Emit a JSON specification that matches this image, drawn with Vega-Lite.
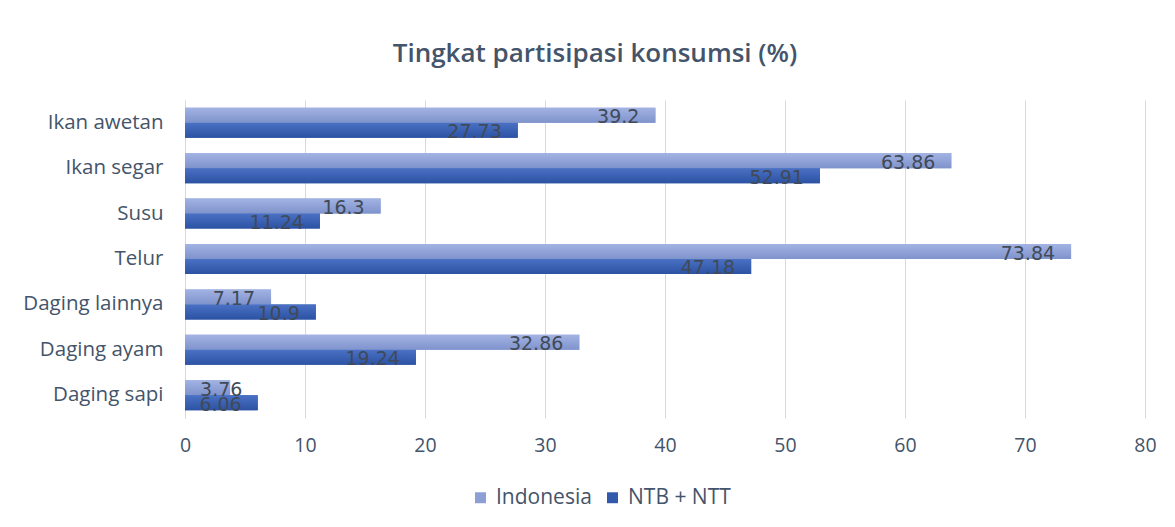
{
  "$schema": "https://vega.github.io/schema/vega-lite/v6.json",
  "autosize": {"type": "none"},
  "width": 960,
  "height": 318,
  "padding": {"left": 185, "top": 100, "right": 30, "bottom": 109},
  "background": "white",
  "title": {
    "text": "Tingkat partisipasi konsumsi (%)",
    "font": "Open Sans",
    "fontSize": 26,
    "fontWeight": 600,
    "color": "#44546a",
    "anchor": "middle",
    "dx": -70,
    "offset": 33
  },
  "data": {
    "values": [
      {"kategori": "Ikan awetan", "seri": "Indonesia", "nilai": 39.2, "label": "39.2"},
      {"kategori": "Ikan awetan", "seri": "NTB + NTT", "nilai": 27.73, "label": "27.73"},
      {"kategori": "Ikan segar", "seri": "Indonesia", "nilai": 63.86, "label": "63.86"},
      {"kategori": "Ikan segar", "seri": "NTB + NTT", "nilai": 52.91, "label": "52.91"},
      {"kategori": "Susu", "seri": "Indonesia", "nilai": 16.3, "label": "16.3"},
      {"kategori": "Susu", "seri": "NTB + NTT", "nilai": 11.24, "label": "11.24"},
      {"kategori": "Telur", "seri": "Indonesia", "nilai": 73.84, "label": "73.84"},
      {"kategori": "Telur", "seri": "NTB + NTT", "nilai": 47.18, "label": "47.18"},
      {"kategori": "Daging lainnya", "seri": "Indonesia", "nilai": 7.17, "label": "7.17"},
      {"kategori": "Daging lainnya", "seri": "NTB + NTT", "nilai": 10.9, "label": "10.9"},
      {"kategori": "Daging ayam", "seri": "Indonesia", "nilai": 32.86, "label": "32.86"},
      {"kategori": "Daging ayam", "seri": "NTB + NTT", "nilai": 19.24, "label": "19.24"},
      {"kategori": "Daging sapi", "seri": "Indonesia", "nilai": 3.76, "label": "3.76"},
      {"kategori": "Daging sapi", "seri": "NTB + NTT", "nilai": 6.06, "label": "6.06"}
    ]
  },
  "encoding": {
    "y": {
      "field": "kategori",
      "type": "nominal",
      "sort": ["Ikan awetan", "Ikan segar", "Susu", "Telur", "Daging lainnya", "Daging ayam", "Daging sapi"],
      "scale": {"paddingInner": 0.34, "paddingOuter": 0.17},
      "axis": {
        "title": null,
        "ticks": false,
        "domain": true,
        "domainColor": "#d9d9d9",
        "labelFont": "Open Sans",
        "labelFontSize": 20.5,
        "labelColor": "#44546a",
        "labelPadding": 22,
        "grid": false
      }
    },
    "yOffset": {"field": "seri", "type": "nominal", "sort": ["Indonesia", "NTB + NTT"]},
    "x": {
      "field": "nilai",
      "type": "quantitative",
      "scale": {"domain": [0, 80], "nice": false},
      "axis": {
        "title": null,
        "values": [0, 10, 20, 30, 40, 50, 60, 70, 80],
        "domain": false,
        "ticks": false,
        "grid": true,
        "gridColor": "#d9d9d9",
        "labelFlush": false,
        "labelFont": "Open Sans",
        "labelFontSize": 19.5,
        "labelColor": "#44546a",
        "labelPadding": 18
      }
    }
  },
  "layer": [
    {
      "mark": {"type": "bar"},
      "encoding": {
        "color": {
          "field": "seri",
          "type": "nominal",
          "scale": {"domain": ["Indonesia", "NTB + NTT"], "range": ["#8ca0d6", "#3359ad"]},
          "legend": {
            "title": null,
            "orient": "none",
            "direction": "horizontal",
            "legendX": 285,
            "legendY": 387,
            "symbolType": "square",
            "symbolSize": 120,
            "symbolStrokeWidth": 0,
            "labelFont": "Open Sans",
            "labelFontSize": 21,
            "labelColor": "#44546a",
            "columnPadding": 10,
            "labelOffset": 5
          }
        }
      }
    },
    {
      "mark": {"type": "bar"},
      "encoding": {
        "fill": {
          "condition": {
            "test": "datum.seri === 'Indonesia'",
            "value": {"gradient": "linear", "x1": 0, "y1": 0, "x2": 0, "y2": 1, "stops": [{"offset": 0, "color": "#a2b3e3"}, {"offset": 1, "color": "#7f93cc"}]}
          },
          "value": {"gradient": "linear", "x1": 0, "y1": 0, "x2": 0, "y2": 1, "stops": [{"offset": 0, "color": "#4a71c4"}, {"offset": 1, "color": "#2c52a3"}]}
        }
      }
    },
    {
      "transform": [{"filter": "datum.nilai >= 5"}],
      "mark": {"type": "text", "align": "right", "baseline": "middle", "dx": -16, "dy": 2, "font": "DejaVu Sans", "fontSize": 19, "color": "#404a58"},
      "encoding": {
        "text": {"field": "label", "type": "nominal"}
      }
    },
    {
      "transform": [{"filter": "datum.nilai < 5"}],
      "mark": {"type": "text", "align": "left", "baseline": "middle", "dx": -30, "dy": 2, "font": "DejaVu Sans", "fontSize": 19, "color": "#404a58"},
      "encoding": {
        "text": {"field": "label", "type": "nominal"}
      }
    }
  ],
  "config": {
    "view": {"stroke": null}
  }
}
